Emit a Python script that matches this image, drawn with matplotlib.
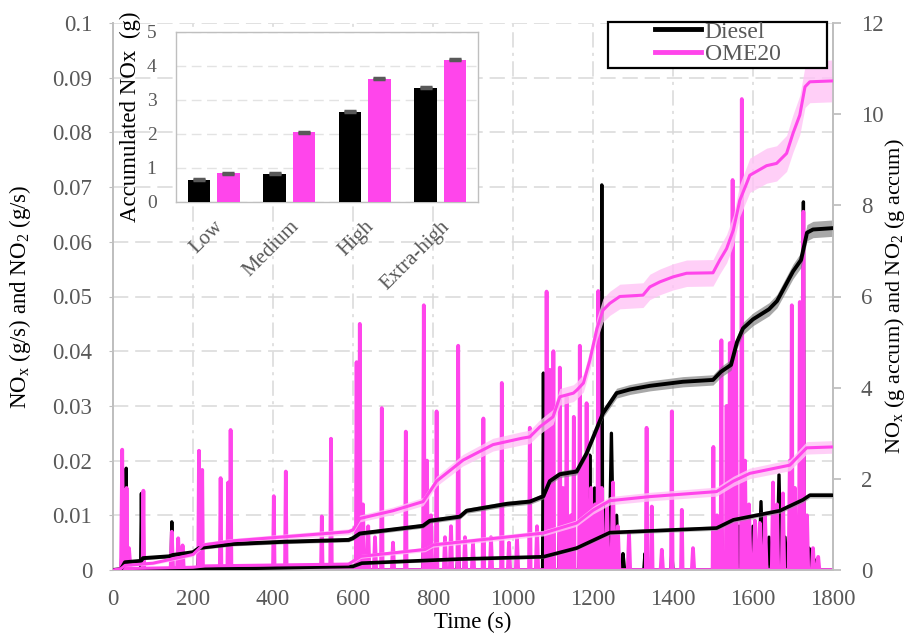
import numpy as np
import matplotlib
matplotlib.use('Agg')
import matplotlib.pyplot as plt
from matplotlib.patches import Rectangle
from matplotlib.lines import Line2D

plt.rcParams['font.family'] = ['Liberation Serif', 'DejaVu Serif']
plt.rcParams['mathtext.fontset'] = 'custom'
plt.rcParams['mathtext.rm'] = 'Liberation Serif'
plt.rcParams['mathtext.it'] = 'Liberation Serif:italic'
plt.rcParams['mathtext.bf'] = 'Liberation Serif:bold'

# ---------------- data ----------------
# accumulated NOx (g) - Diesel
diesel_nox_t = [0, 20, 30, 70, 75, 140, 150, 200, 215, 230, 300, 430, 589, 600, 617, 775, 792, 867,
                884, 984, 1042, 1076, 1092, 1117, 1159, 1184, 1225, 1259, 1292, 1342, 1425, 1500,
                1520, 1545, 1560, 1575, 1600, 1640, 1660, 1700, 1720, 1735, 1750, 1800]
diesel_nox_v = [0, 0.02, 0.17, 0.2, 0.26, 0.3, 0.33, 0.39, 0.48, 0.5, 0.57, 0.62, 0.66, 0.7, 0.8, 0.97,
                1.08, 1.17, 1.3, 1.45, 1.5, 1.62, 1.95, 2.1, 2.16, 2.56, 3.44, 3.88, 3.96, 4.04, 4.13,
                4.17, 4.35, 4.5, 5.0, 5.3, 5.5, 5.72, 5.9, 6.55, 6.8, 7.4, 7.47, 7.5]
# accumulated NOx (g) - OME20
ome_nox_t = [0, 20, 30, 100, 200, 225, 300, 589, 600, 617, 700, 775, 792, 809, 875, 950, 1022, 1042,
             1067, 1100, 1117, 1151, 1160, 1176, 1192, 1210, 1225, 1242, 1267, 1325, 1342, 1367, 1400,
             1434, 1500, 1517, 1534, 1551, 1567, 1584, 1592, 1634, 1659, 1684, 1700, 1717, 1730,
             1742, 1800]
ome_nox_v = [0, 0.03, 0.1, 0.15, 0.34, 0.55, 0.64, 0.84, 0.88, 1.13, 1.3, 1.5, 1.72, 1.95, 2.41, 2.75,
             2.89, 2.92, 3.14, 3.36, 3.8, 3.88, 3.95, 4.1, 4.6, 5.3, 5.7, 5.85, 6.0, 6.03, 6.21, 6.32,
             6.43, 6.51, 6.52, 6.8, 7.05, 7.46, 8.11, 8.48, 8.66, 8.87, 8.92, 9.14, 9.58, 9.98, 10.6,
             10.71, 10.73]
# accumulated NO2 (g)
diesel_no2_t = [0, 300, 600, 622, 867, 1076, 1159, 1242, 1509, 1551, 1667, 1725, 1742, 1800]
diesel_no2_v = [0, 0.03, 0.08, 0.15, 0.24, 0.29, 0.48, 0.82, 0.92, 1.1, 1.3, 1.54, 1.64, 1.64]
ome_no2_t = [0, 30, 200, 230, 589, 620, 780, 800, 1076, 1159, 1200, 1242, 1342, 1509, 1551, 1592,
             1692, 1734, 1800]
ome_no2_v = [0, 0.03, 0.06, 0.09, 0.13, 0.3, 0.45, 0.55, 0.81, 1.03, 1.31, 1.52, 1.61, 1.72, 1.95,
             2.12, 2.3, 2.68, 2.7]

# instantaneous emission peaks (g/s): time, peak value, half-duration (s)
ome_spk_t = [23, 34, 40, 76, 147, 163, 174, 215, 223, 269, 288, 294, 402, 432, 522, 545, 609, 617,
             625, 638, 655, 672, 700, 732, 777, 785, 795, 809, 830, 845, 863, 880, 900, 926, 945,
             972, 990, 1010, 1042, 1060, 1084, 1092, 1101, 1117, 1125, 1134, 1145, 1152, 1167, 1175,
             1184, 1195, 1205, 1213, 1222, 1235, 1250, 1262, 1290, 1334, 1347, 1372, 1397, 1422,
             1450, 1501, 1510, 1521, 1534, 1542, 1549, 1558, 1572, 1580, 1590, 1605, 1617, 1630,
             1650, 1660, 1675, 1692, 1697, 1705, 1717, 1726, 1735, 1750, 1763]
ome_spk_h = [0.022, 0.015, 0.004, 0.0145, 0.007, 0.0058, 0.0045, 0.0218, 0.0183, 0.0168, 0.016,
             0.0256, 0.0135, 0.018, 0.0098, 0.024, 0.038, 0.045, 0.012, 0.008, 0.006, 0.0296, 0.005,
             0.0253, 0.0484, 0.02, 0.01, 0.029, 0.006, 0.008, 0.041, 0.006, 0.005, 0.0277, 0.006,
             0.0342, 0.005, 0.006, 0.026, 0.008, 0.0509, 0.0366, 0.04, 0.037, 0.015, 0.0317, 0.01,
             0.028, 0.041, 0.02, 0.0305, 0.015, 0.012, 0.051, 0.015, 0.012, 0.016, 0.008, 0.007,
             0.026, 0.0116, 0.0037, 0.029, 0.011, 0.004, 0.0225, 0.01, 0.042, 0.03, 0.0415, 0.0713,
             0.04, 0.0861, 0.02, 0.012, 0.009, 0.0086, 0.01, 0.016, 0.012, 0.014, 0.02, 0.0484,
             0.015, 0.049, 0.0655, 0.01, 0.004, 0.0024]
ome_spk_w = [3, 2, 4, 2, 3, 3, 3, 2, 2, 2, 2, 2, 2, 2, 2, 2, 2, 2, 3, 3, 3, 2, 3, 2, 2, 2, 3, 2, 3,
             3, 2, 3, 3, 2, 3, 2, 3, 3, 2, 3, 2, 2, 2, 2, 3, 2, 3, 2, 2, 3, 2, 3, 3, 2, 3, 4, 4, 4,
             3, 2, 2, 3, 2, 2, 3, 2, 3, 2, 2, 2, 2, 2, 2, 3, 4, 4, 3, 4, 3, 3, 3, 3, 2, 3, 2, 2, 3,
             3, 3]

diesel_spk_t = [23, 33, 71, 147, 215, 609, 617, 777, 863, 1076, 1084, 1117, 1150, 1170, 1180, 1192,
                1204, 1213, 1222, 1230, 1246, 1259, 1275, 1330, 1397, 1521, 1555, 1565, 1585, 1600,
                1620, 1640, 1665, 1680, 1695, 1710, 1726, 1740, 1760]
diesel_spk_h = [0.004, 0.0186, 0.014, 0.0088, 0.005, 0.005, 0.01, 0.006, 0.004, 0.036, 0.015, 0.01,
                0.008, 0.012, 0.016, 0.021, 0.015, 0.018, 0.0704, 0.012, 0.025, 0.01, 0.003, 0.003,
                0.003, 0.008, 0.0225, 0.008, 0.006, 0.008, 0.0125, 0.006, 0.0174, 0.006, 0.008,
                0.005, 0.0673, 0.004, 0.002]
diesel_spk_w = [3, 2, 2, 2, 3, 3, 3, 3, 3, 2, 3, 3, 3, 5, 4, 4, 4, 4, 2, 5, 6, 5, 4, 3, 3, 3, 3, 5,
                5, 5, 5, 5, 5, 5, 4, 4, 2, 3, 3]

# inset: accumulated NOx per WLTC phase (g)
phases = ['Low', 'Medium', 'High', 'Extra-high']
diesel_phase = [0.66, 0.83, 2.66, 3.36]
ome_phase = [0.84, 2.05, 3.63, 4.19]
diesel_phase_err = [0.02, 0.02, 0.02, 0.02]
ome_phase_err = [0.02, 0.02, 0.02, 0.02]

x_ticks = list(range(0, 1801, 200))
left_ticks = [0, 0.01, 0.02, 0.03, 0.04, 0.05, 0.06, 0.07, 0.08, 0.09, 0.1]
right_ticks = [0, 2, 4, 6, 8, 10, 12]

# ---------------- style ----------------
PINK = '#FF45EB'
BAND_PINK = '#FFC4F6'
GRAY_TXT = '#595959'
GRID = '#d9d9d9'
SPINE = '#bfbfbf'
FS = 16.5


def spike_path(ts, hs, ws):
    xs, ys = [0.0], [0.0]
    for t, h, w in zip(ts, hs, ws):
        xs += [t - w, t, t + w]
        ys += [0.0, h, 0.0]
    xs.append(1800.0)
    ys.append(0.0)
    return xs, ys


fig = plt.figure(figsize=(9.12, 6.35), dpi=100)
ax = fig.add_axes([113 / 912, 1 - 570 / 635, 720 / 912, 547 / 635])
ax2 = ax.twinx()

ax.set_xlim(0, 1800)
ax.set_ylim(0, 0.1)
ax2.set_ylim(0, 12)

# grid
ax.set_xticks(x_ticks)
ax.set_yticks(left_ticks)
ax.set_yticklabels(['%g' % v for v in left_ticks])
ax.yaxis.grid(True, color=GRID, lw=1.1, linestyle=(0, (10, 4.5)))
ax.xaxis.grid(True, color=GRID, lw=1.1, linestyle=(0, (10, 3.5, 2, 3.5)))
ax.set_axisbelow(True)

# instantaneous
dx, dy = spike_path(diesel_spk_t, diesel_spk_h, diesel_spk_w)
ax.plot(dx, dy, color='black', lw=2.4, zorder=2, solid_joinstyle='round')
ox, oy = spike_path(ome_spk_t, ome_spk_h, ome_spk_w)
ax.plot(ox, oy, color=PINK, lw=2.7, zorder=3, solid_joinstyle='round')

# accumulated (right axis)
ax.set_zorder(1)
ax2.set_zorder(2)
ax2.patch.set_visible(False)


def accum(t, v, color, band_color, rel, lw, band_alpha):
    t = np.asarray(t, float)
    v = np.asarray(v, float)
    hw = 0.03 + rel * v
    ax2.fill_between(t, v - hw, v + hw, color=band_color, alpha=band_alpha, lw=0, zorder=2)
    ax2.plot(t, v, color=color, lw=lw, zorder=3)


accum(diesel_no2_t, diesel_no2_v, 'black', '#9a9a9a', 0.02, 2.6, 0.6)
accum(ome_no2_t, ome_no2_v, PINK, BAND_PINK, 0.04, 2.2, 0.8)
accum(diesel_nox_t, diesel_nox_v, 'black', '#7a7a7a', 0.02, 2.8, 0.65)
accum(ome_nox_t, ome_nox_v, PINK, BAND_PINK, 0.04, 2.2, 0.8)

# spines / ticks
for a in (ax, ax2):
    a.spines['top'].set_visible(False)
    for s in ('left', 'right', 'bottom'):
        a.spines[s].set_color(SPINE)
        a.spines[s].set_linewidth(1.3)
ax.tick_params(axis='x', length=0, pad=14, labelsize=FS, labelcolor=GRAY_TXT)
ax.tick_params(axis='y', length=3, color=SPINE, pad=12, labelsize=FS, labelcolor=GRAY_TXT)
ax2.set_yticks(right_ticks)
ax2.tick_params(axis='y', length=6, color=SPINE, width=1.3, pad=14, labelsize=FS,
                labelcolor=GRAY_TXT)

ax.set_xlabel('Time (s)', fontsize=FS, color='black', labelpad=1)
ax.set_ylabel(r'NO$_\mathrm{x}$ (g/s) and NO$_2$ (g/s)', fontsize=FS, color='black', labelpad=14)
ax2.set_ylabel(r'NO$_\mathrm{x}$ (g accum) and NO$_2$ (g accum)', fontsize=16, color='black',
               labelpad=0)

# legend box
fig.patches.append(Rectangle((608 / 912, 1 - 68 / 635), 219 / 912, 46 / 635,
                             transform=fig.transFigure, facecolor='white', edgecolor='black',
                             lw=1.6, zorder=10))
handles = [Line2D([], [], color='black', lw=3.5), Line2D([], [], color=PINK, lw=3.5)]
leg = fig.legend(handles, ['Diesel', 'OME20'], loc='upper left',
                 bbox_to_anchor=(655 / 912, 1 - 21 / 635), frameon=False, fontsize=17,
                 handlelength=1.95, handletextpad=0.15, labelspacing=0.03, borderpad=0,
                 borderaxespad=0)
leg.set_zorder(11)
for txt in leg.get_texts():
    txt.set_color(GRAY_TXT)

# inset
ins = fig.add_axes([176 / 912, 1 - 202 / 635, 302 / 912, 170 / 635])
ins.set_zorder(5)
ins.set_facecolor('white')
xi = np.arange(len(phases))
bw = 0.30
ins.bar(xi - 0.195, diesel_phase, bw, color='black', yerr=diesel_phase_err,
        error_kw=dict(ecolor='#595959', capsize=4, elinewidth=1.5, capthick=2.5), zorder=3)
ins.bar(xi + 0.195, ome_phase, bw, color=PINK, yerr=ome_phase_err,
        error_kw=dict(ecolor='#595959', capsize=4, elinewidth=1.5, capthick=2.5), zorder=3)
ins.set_xlim(-0.5, 3.5)
ins.set_ylim(0, 5)
ins.set_yticks([0, 1, 2, 3, 4, 5])
ins.yaxis.grid(True, color='#e3e3e3', lw=1.0, linestyle=(0, (7, 4)))
ins.set_axisbelow(True)
ins.set_xticks(xi)
ins.set_xticklabels(phases, rotation=45, ha='right', rotation_mode='anchor')
ins.tick_params(axis='x', length=0, pad=11, labelsize=15, labelcolor=GRAY_TXT)
ins.tick_params(axis='y', length=0, pad=14, labelsize=14, labelcolor=GRAY_TXT)
for s in ins.spines.values():
    s.set_color(SPINE)
    s.set_linewidth(1.0)
ins.set_ylabel('Accumulated NOx  (g)', fontsize=FS, color='black', labelpad=4)

fig.savefig('out.png', dpi=100)
